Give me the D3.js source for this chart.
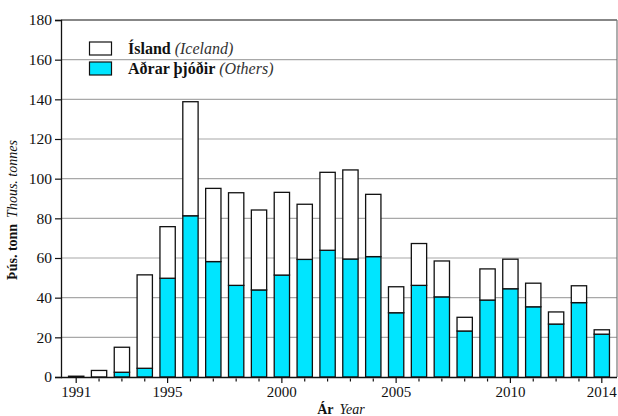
<!DOCTYPE html>
<html>
<head>
<meta charset="utf-8">
<script src="https://cdn.jsdelivr.net/npm/d3@7"></script>
<style>
  html, body { margin: 0; padding: 0; background: #fff; }
  svg { display: block; }
</style>
</head>
<body>
<svg id="chart" width="618" height="416"></svg>
<script>
// ---- Data (thousand tonnes) ----
const years = [1991, 1992, 1993, 1994, 1995, 1996, 1997, 1998, 1999, 2000, 2001, 2002,
               2003, 2004, 2005, 2006, 2007, 2008, 2009, 2010, 2011, 2012, 2013, 2014];
const others = [0, 0, 2.4, 4.4, 49.8, 81.3, 58.2, 46.2, 43.9, 51.4, 59.3, 63.9,
                59.5, 60.7, 32.4, 46.2, 40.4, 23.2, 38.8, 44.5, 35.4, 26.7, 37.5, 21.6];
const iceland = [0.4, 3.3, 12.6, 47.1, 26.0, 57.5, 36.9, 46.7, 40.3, 41.7, 27.8, 39.3,
                 44.9, 31.4, 13.1, 21.1, 18.1, 6.9, 15.7, 14.9, 11.9, 6.1, 8.5, 2.2];
const xTickLabels = [1991, 1995, 2000, 2005, 2010, 2014];
const yTicks = [0, 20, 40, 60, 80, 100, 120, 140, 160, 180];
const seriesNames = ["others", "iceland"];
const legendItems = [
  { key: "iceland", bold: "Ísland", italic: "(Iceland)" },
  { key: "others", bold: "Aðrar þjóðir", italic: "(Others)" }
];
const colors = { others: "#00E5FF", iceland: "#FFFFFF" };

(function () {
const FONT = "'Liberation Serif', 'Times New Roman', serif";
const svg = d3.select("#chart");
const mLeft = 61, mRight = 617, mTop = 20, mBottom = 377;

const x = d3.scaleBand().domain(years).range([mLeft, mRight]).paddingInner(0.33).paddingOuter(0.33);
const y = d3.scaleLinear().domain([0, 180]).range([mBottom, mTop]);

// gridlines
svg.append("g").selectAll("line")
  .data(yTicks.filter(d => d > 0 && d < 180))
  .join("line")
  .attr("x1", mLeft).attr("x2", mRight)
  .attr("y1", d => y(d)).attr("y2", d => y(d))
  .attr("stroke", "#a8a8a8").attr("stroke-width", 1.2);

// frame top & right
svg.append("line").attr("x1", mLeft).attr("x2", mRight).attr("y1", y(180)).attr("y2", y(180))
  .attr("stroke", "#111").attr("stroke-width", 1.2);
svg.append("line").attr("x1", mRight).attr("x2", mRight).attr("y1", y(180)).attr("y2", y(0))
  .attr("stroke", "#777").attr("stroke-width", 1.2);

// stacked bars
const table = years.map((yr, i) => ({ year: yr, others: others[i], iceland: iceland[i] }));
const stacked = d3.stack().keys(seriesNames)(table);
svg.append("g").selectAll("g")
  .data(stacked)
  .join("g")
  .attr("fill", d => colors[d.key])
  .selectAll("rect")
  .data(d => d.filter(s => s[1] - s[0] > 0))
  .join("rect")
  .attr("x", d => x(d.data.year))
  .attr("width", x.bandwidth())
  .attr("y", d => y(d[1]))
  .attr("height", d => y(d[0]) - y(d[1]))
  .attr("stroke", "#111")
  .attr("stroke-width", 1.3);

// y axis
const yAxis = d3.axisLeft(y).tickValues(yTicks).tickSize(6).tickPadding(3).tickFormat(d3.format("d"));
const gy = svg.append("g").attr("transform", `translate(${mLeft},0)`).call(yAxis);
gy.attr("font-family", null).attr("font-size", null);
gy.select(".domain").attr("stroke", "#111").attr("stroke-width", 1.3);
gy.selectAll(".tick line").attr("stroke", "#111").attr("stroke-width", 1.2);
gy.selectAll("text").style("font-size", "15.5px").style("font-family", FONT).attr("fill", "#111");

// x axis
const xAxis = d3.axisBottom(x).tickSize(0).tickFormat(d => xTickLabels.includes(d) ? d : "").tickPadding(9);
const gx = svg.append("g").attr("transform", `translate(0,${mBottom})`).call(xAxis);
gx.attr("font-family", null).attr("font-size", null);
gx.select(".domain").attr("d", `M${mLeft},0.5H${mRight}`).attr("stroke", "#111").attr("stroke-width", 1.3);
gx.selectAll(".tick").append("line")
  .attr("y1", d => xTickLabels.includes(d) ? 0 : 1.5)
  .attr("y2", d => xTickLabels.includes(d) ? 6 : 4.5)
  .attr("stroke", "#111").attr("stroke-width", 1.2);
gx.selectAll("text").style("font-size", "15px").style("font-family", FONT).attr("fill", "#111");

// axis titles
const xt = svg.append("text").attr("x", 341).attr("y", 414).attr("text-anchor", "middle")
  .style("font-size", "14px").style("font-family", FONT).attr("fill", "#111");
xt.append("tspan").attr("font-weight", "bold").text("Ár");
xt.append("tspan").attr("font-style", "italic").attr("dx", 6).text("Year");

const yt = svg.append("text").attr("transform", "translate(17,210) rotate(-90)")
  .attr("text-anchor", "middle").style("font-size", "14px").style("font-family", FONT).attr("fill", "#111");
yt.append("tspan").attr("font-weight", "bold").text("Þús. tonn");
yt.append("tspan").attr("font-style", "italic").attr("dx", 6).text("Thous. tonnes");

// legend
const lg = svg.append("g");
legendItems.forEach((it, i) => {
  const yy = 42 + i * 20;
  lg.append("rect").attr("x", 89.5).attr("y", yy).attr("width", 22).attr("height", 13)
    .attr("fill", colors[it.key]).attr("stroke", "#111").attr("stroke-width", 1.2);
  const t = lg.append("text").attr("x", 128).attr("y", yy + 11.5)
    .style("font-size", "16px").style("font-family", FONT).attr("fill", "#111");
  t.append("tspan").attr("font-weight", "bold").text(it.bold);
  t.append("tspan").attr("font-style", "italic").attr("fill", "#333").text(" " + it.italic);
});
})();
</script>
</body>
</html>
